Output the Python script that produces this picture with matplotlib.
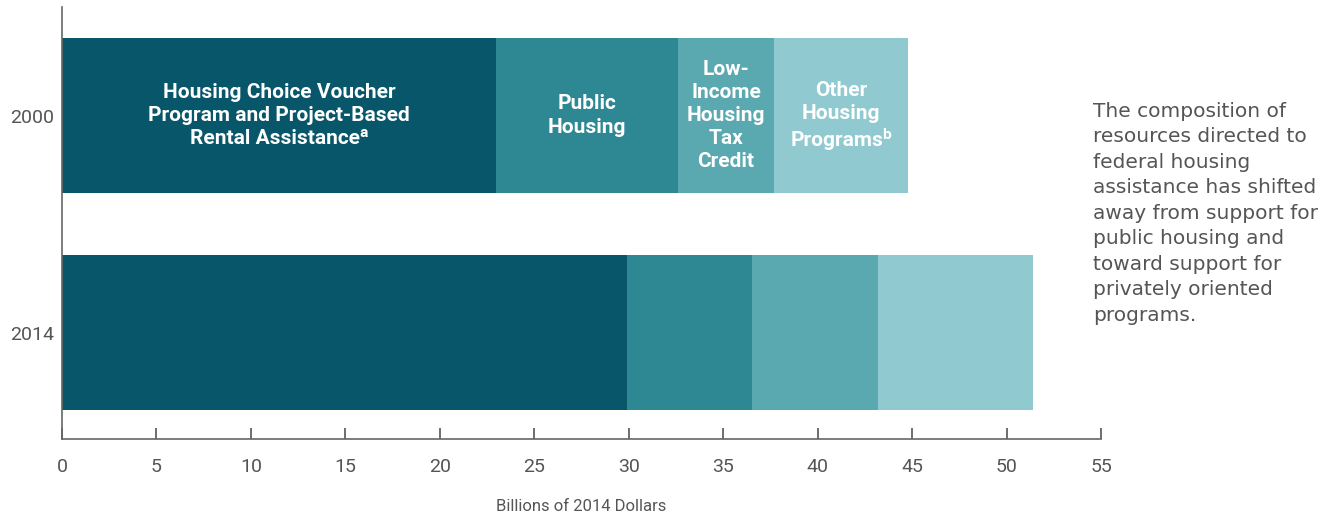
import matplotlib
matplotlib.use("Agg")
import matplotlib.pyplot as plt

years = ["2014", "2000"]
categories = [
    "Housing Choice Voucher\nProgram and Project-Based\nRental Assistance\u1d43",
    "Public\nHousing",
    "Low-\nIncome\nHousing\nTax\nCredit",
    "Other\nHousing\nPrograms\u1d47",
]
values_2014 = [29.9, 6.6, 6.7, 8.2]
values_2000 = [23.0, 9.6, 5.1, 7.1]
colors = ["#08566a", "#2e8893", "#5aa8b0", "#90c9d0"]
xticks = [0, 5, 10, 15, 20, 25, 30, 35, 40, 45, 50, 55]
caption = ("The composition of\nresources directed to\nfederal housing\nassistance has shifted\n"
           "away from support for\npublic housing and\ntoward support for\nprivately oriented\nprograms.")

narrow = "Roboto"

fig = plt.figure(figsize=(13.31, 5.17), dpi=100)
ax = fig.add_axes([62/1331, 1-439/517, (1101-62)/1331, (439-7)/517])

series = [values_2014, values_2000]
ypos = [0, 1]
for yi, vals in zip(ypos, series):
    left = 0
    for i, v in enumerate(vals):
        ax.barh(yi, v, left=left, height=0.714, color=colors[i], edgecolor="none")
        if yi == 1:
            ax.text(left + v/2, yi, categories[i], ha="center", va="center",
                    color="white", fontsize=15, fontweight="bold",
                    family=[narrow, "DejaVu Sans"], linespacing=1.28)
        left += v

ax.set_xlim(0, 55)
ax.set_ylim(-0.49, 1.5)
ax.set_xticks(xticks)
ax.set_xticklabels([str(t) for t in xticks], family=narrow, fontsize=14, color="#555555")
ax.set_yticks(ypos)
ax.set_yticklabels(years, family=narrow, fontsize=14, color="#555555")
ax.tick_params(axis="x", direction="in", length=8, width=1.2, color="#555555", pad=14)
ax.tick_params(axis="y", length=0, pad=6)
for s in ["top", "right"]:
    ax.spines[s].set_visible(False)
for s in ["left", "bottom"]:
    ax.spines[s].set_color("#666666")
    ax.spines[s].set_linewidth(1.2)
ax.set_xlabel("Billions of 2014 Dollars", family=narrow, fontsize=12, color="#555555", labelpad=16)

fig.text(1093/1331, 1-102/517, caption, ha="left", va="top", fontsize=14.5,
         color="#555555", family="DejaVu Sans", linespacing=1.43)

fig.savefig("out.png", dpi=100)
